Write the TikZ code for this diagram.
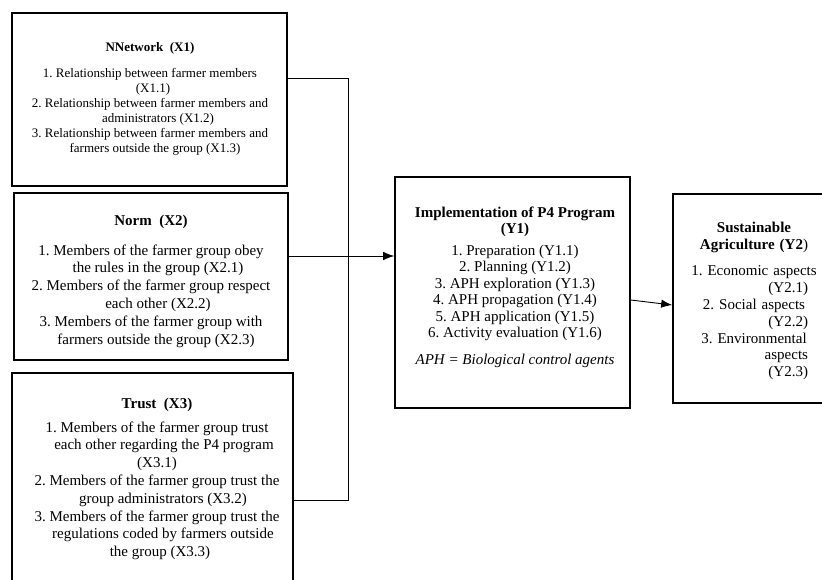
\documentclass[tikz,border=0pt]{standalone}
\usepackage{fontspec}
\setmainfont{Liberation Serif}
\usetikzlibrary{arrows.meta}
\frenchspacing
\begin{document}
\begin{tikzpicture}[x=1pt,y=-1pt,
  box/.style={draw, line width=1.6pt, rectangle, inner sep=0pt},
  txt/.style={align=center, inner sep=0pt, anchor=north},
  fa/.style={font=\fontsize{13}{15}\selectfont},
  fb/.style={font=\fontsize{15}{17.8}\selectfont},
  conn/.style={line width=0.9pt},
  arr/.style={conn, -{Latex[length=11pt,width=8.5pt]}}]
\useasboundingbox (0,0) rectangle (822,579);
\clip (0,0) rectangle (822,579);
% boxes
\node[box, minimum width=275pt, minimum height=173pt] (x1) at (149.5,99.5) {};
\node[box, minimum width=274pt, minimum height=167pt] (x2) at (151,276.5) {};
\node[box, minimum width=281pt, minimum height=227pt] (x3) at (152.5,486.5) {};
\node[box, minimum width=235pt, minimum height=231pt] (y1) at (512.5,292.5) {};
\node[box, minimum width=167pt, minimum height=209pt] (y2) at (756.5,298.5) {};
% texts
\node[txt, fa] (x1t) at (150,42.3) {\textbf{NNetwork\ \ (X1)}\\[11pt]
1. Relationship between farmer members\\
\hspace*{6pt}(X1.1)\\
2. Relationship between farmer members and\\
\hspace*{16pt}administrators (X1.2)\\
3. Relationship between farmer members and\\
\hspace*{10pt}farmers outside the group (X1.3)};
\node[txt, fb] (x2t) at (151,214.6) {\textbf{Norm\ \ (X2)}\\[12pt]
1. Members of the farmer group obey\\
\hspace*{14pt}the rules in the group (X2.1)\\
2. Members of the farmer group respect\\
\hspace*{14pt}each other (X2.2)\\
3. Members of the farmer group with\\
\hspace*{10pt}farmers outside the group (X2.3)};
\node[txt, fb] (x3t) at (157,397.6) {\textbf{Trust\ \ (X3)}\\[6pt]
1. Members of the farmer group trust\\
\hspace*{14pt}each other regarding the P4 program\\
(X3.1)\\
2. Members of the farmer group trust the\\
\hspace*{12pt}group administrators (X3.2)\\
3. Members of the farmer group trust the\\
\hspace*{12pt}regulations coded by farmers outside\\
\hspace*{6pt}the group (X3.3)};
\node[txt, font=\fontsize{15}{16.5}\selectfont] (y1t) at (515,206.6) {\textbf{Implementation of P4 Program}\\
\textbf{(Y1)}\\[5pt]
1. Preparation (Y1.1)\\
2. Planning (Y1.2)\\
3. APH exploration (Y1.3)\\
4. APH propagation (Y1.4)\\
5. APH application (Y1.5)\\
6. Activity evaluation (Y1.6)\\[10pt]
\textit{APH = Biological control agents}};
\node[txt, font=\fontsize{15}{16.8}\selectfont, text width=134pt] (y2t) at (754,221.6) {\textbf{Sustainable}\\
\textbf{Agriculture (Y2})\\[10pt]
1. Economic aspects\\
\hspace*{\fill}(Y2.1)\hspace*{13pt}\null\\
2. Social aspects\\
\hspace*{\fill}(Y2.2)\hspace*{13pt}\null\\
3. Environmental\\
\hspace*{\fill}aspects\hspace*{13pt}\null\\
\hspace*{\fill}(Y2.3)\hspace*{13pt}\null};
% connectors
\coordinate (j1) at (348,78);
\coordinate (j2) at (348,256);
\coordinate (j3) at (348,500);
\draw[conn] (x1.east |- j1) -- (j1) -- (j3) -- (x3.east |- j3);
\draw[arr] (x2.east |- j2) -- (y1.west |- j2);
\draw[arr] ([yshift=-7.5pt]y1.east) -- ([yshift=-6.5pt]y2.west);
\end{tikzpicture}
\end{document}
